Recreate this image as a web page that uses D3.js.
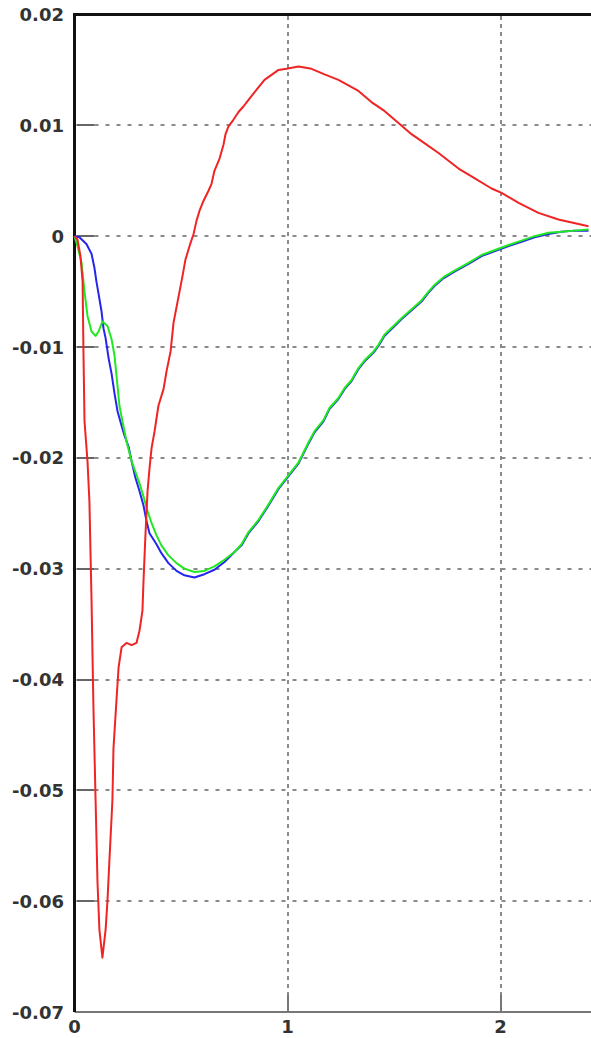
<!DOCTYPE html>
<html>
<head>
<meta charset="utf-8">
<script src="https://cdn.jsdelivr.net/npm/d3@7/dist/d3.min.js"></script>
<style>
  html, body { margin: 0; padding: 0; background: #fff; }
  svg { display: block; }
</style>
</head>
<body>
<svg id="chart" width="591" height="1038"></svg>
<script>
// ---- Data ----
const yTicks = [0.02, 0.01, 0, -0.01, -0.02, -0.03, -0.04, -0.05, -0.06, -0.07];
const yTickLabels = ["0.02", "0.01", "0", "-0.01", "-0.02", "-0.03", "-0.04", "-0.05", "-0.06", "-0.07"];
const xTicks = [0, 1, 2];
const xTickLabels = ["0", "1", "2"];

const redT = [0, 0.014, 0.028, 0.038, 0.042, 0.047, 0.061, 0.070, 0.080, 0.089, 0.099, 0.108, 0.117, 0.131,
  0.146, 0.155, 0.164, 0.178, 0.183, 0.197, 0.207, 0.221, 0.244, 0.268, 0.291, 0.305, 0.319, 0.324, 0.333,
  0.343, 0.352, 0.362, 0.376, 0.394, 0.418, 0.432, 0.451, 0.465, 0.488, 0.507, 0.521, 0.545, 0.559, 0.573,
  0.587, 0.606, 0.629, 0.643, 0.657, 0.681, 0.700, 0.709, 0.723, 0.746, 0.770, 0.793, 0.817, 0.854, 0.892,
  0.958, 0.995, 1.052, 1.113, 1.174, 1.239, 1.333, 1.394, 1.455, 1.521, 1.582, 1.643, 1.709, 1.803, 1.864,
  1.958, 2.005, 2.085, 2.178, 2.272, 2.366, 2.413];
const redV = [0, -0.0003, -0.0018, -0.0041, -0.0104, -0.0167, -0.0203, -0.0239, -0.0329, -0.0426, -0.0509,
  -0.0583, -0.0626, -0.0651, -0.0626, -0.0599, -0.0563, -0.0509, -0.0462, -0.0419, -0.0389, -0.0371, -0.0367,
  -0.0369, -0.0367, -0.0356, -0.0338, -0.0311, -0.0270, -0.0230, -0.0210, -0.0191, -0.0176, -0.0153, -0.0138,
  -0.0122, -0.0104, -0.0078, -0.0055, -0.0036, -0.0021, -0.0006, 0.0002, 0.0014, 0.0023, 0.0032, 0.0041,
  0.0047, 0.0059, 0.0070, 0.0083, 0.0092, 0.0099, 0.0105, 0.0112, 0.0117, 0.0123, 0.0132, 0.0141, 0.0150,
  0.0151, 0.0153, 0.0151, 0.0146, 0.0141, 0.0131, 0.0121, 0.0113, 0.0102, 0.0092, 0.0084, 0.0075, 0.0061,
  0.0054, 0.0043, 0.0039, 0.0030, 0.0021, 0.0015, 0.0011, 0.0009];

const blueT = [0, 0.023, 0.056, 0.080, 0.094, 0.103, 0.113, 0.127, 0.136, 0.146, 0.160, 0.174, 0.188, 0.202,
  0.221, 0.235, 0.254, 0.268, 0.286, 0.305, 0.324, 0.338, 0.352, 0.385, 0.408, 0.441, 0.479, 0.516, 0.563,
  0.610, 0.657, 0.704, 0.751, 0.784, 0.817, 0.864, 0.911, 0.958, 0.995, 1.052, 1.099, 1.127, 1.169, 1.197,
  1.239, 1.268, 1.300, 1.333, 1.362, 1.404, 1.427, 1.455, 1.535, 1.629, 1.662, 1.690, 1.732, 1.784, 1.850,
  1.911, 1.981, 2.038, 2.099, 2.160, 2.225, 2.286, 2.347, 2.413];
const blueV = [0, -0.0001, -0.0007, -0.0016, -0.0029, -0.0041, -0.0052, -0.0068, -0.0083, -0.0092, -0.0110,
  -0.0124, -0.0142, -0.0158, -0.0171, -0.0180, -0.0190, -0.0203, -0.0218, -0.0230, -0.0243, -0.0257, -0.0268,
  -0.0278, -0.0286, -0.0295, -0.0302, -0.0306, -0.0308, -0.0305, -0.0301, -0.0294, -0.0285, -0.0279, -0.0268,
  -0.0257, -0.0243, -0.0228, -0.0219, -0.0205, -0.0187, -0.0177, -0.0167, -0.0156, -0.0147, -0.0138, -0.0131,
  -0.0120, -0.0113, -0.0105, -0.0099, -0.0090, -0.0075, -0.0059, -0.0051, -0.0045, -0.0038, -0.0032, -0.0025,
  -0.0018, -0.0013, -0.0009, -0.0005, -0.0001, 0.0002, 0.0004, 0.0005, 0.0005];

const greenT = [0, 0.014, 0.033, 0.047, 0.061, 0.080, 0.099, 0.113, 0.131, 0.155, 0.174, 0.188, 0.202, 0.211,
  0.225, 0.244, 0.268, 0.305, 0.324, 0.343, 0.362, 0.385, 0.408, 0.441, 0.479, 0.516, 0.563, 0.610, 0.657,
  0.704, 0.751, 0.784, 0.817, 0.864, 0.911, 0.958, 0.995, 1.052, 1.099, 1.127, 1.169, 1.197, 1.239, 1.268,
  1.300, 1.333, 1.362, 1.404, 1.427, 1.455, 1.535, 1.629, 1.662, 1.690, 1.732, 1.784, 1.850, 1.911, 1.981,
  2.038, 2.099, 2.160, 2.225, 2.286, 2.347, 2.413];
const greenV = [0, -0.0009, -0.0024, -0.0050, -0.0072, -0.0086, -0.0090, -0.0086, -0.0077, -0.0081, -0.0093,
  -0.0108, -0.0135, -0.0153, -0.0167, -0.0185, -0.0203, -0.0223, -0.0235, -0.0248, -0.0259, -0.0270, -0.0279,
  -0.0288, -0.0295, -0.0300, -0.0303, -0.0302, -0.0298, -0.0292, -0.0285, -0.0278, -0.0267, -0.0256, -0.0242,
  -0.0227, -0.0218, -0.0204, -0.0186, -0.0176, -0.0166, -0.0155, -0.0146, -0.0137, -0.0130, -0.0119, -0.0112,
  -0.0104, -0.0098, -0.0089, -0.0074, -0.0058, -0.0050, -0.0044, -0.0037, -0.0031, -0.0024, -0.0017, -0.0012,
  -0.0008, -0.0004, 0.0000, 0.0003, 0.0004, 0.0005, 0.0006];

// ---- Layout ----
const svg = d3.select("#chart");
const mL = 74.5, mR = 591, mT = 14, mB = 1012;

const x = d3.scaleLinear().domain([0, 2.43]).range([mL, mL + 2.43 * 213]);
const y = d3.scaleLinear().domain([-0.07, 0.02]).range([mB, mT + 0.5]);

const g = svg.append("g");

// horizontal grid lines (dotted) + solid tick stubs
yTicks.filter(v => v < 0.0195 && v > -0.0695).forEach(v => {
  const yy = Math.round(y(v));
  g.append("line").attr("x1", mL + 2).attr("x2", mR).attr("y1", yy).attr("y2", yy)
    .attr("stroke", "#8a8a8a").attr("stroke-width", 2).attr("stroke-dasharray", "4,7")
    .attr("stroke-dashoffset", -18);
  g.append("line").attr("x1", mL + 2).attr("x2", mL + 20).attr("y1", yy).attr("y2", yy)
    .attr("stroke", "#666").attr("stroke-width", 2);
});

// vertical grid lines at 1 and 2
xTicks.filter(t => t > 0).forEach(t => {
  const xx = Math.round(x(t));
  g.append("line").attr("x1", xx).attr("x2", xx).attr("y1", mT + 2).attr("y2", mB)
    .attr("stroke", "#8a8a8a").attr("stroke-width", 2).attr("stroke-dasharray", "4,4");
  g.append("line").attr("x1", xx).attr("x2", xx).attr("y1", mB - 17).attr("y2", mB)
    .attr("stroke", "#777").attr("stroke-width", 2);
});

// axes frame
g.append("line").attr("x1", mL).attr("x2", mR).attr("y1", mB).attr("y2", mB)
  .attr("stroke", "#777").attr("stroke-width", 2);
g.append("line").attr("x1", mL - 1.5).attr("x2", mR).attr("y1", mT + 0.5).attr("y2", mT + 0.5)
  .attr("stroke", "#111").attr("stroke-width", 3);
g.append("line").attr("x1", mL).attr("x2", mL).attr("y1", mT - 1).attr("y2", mB)
  .attr("stroke", "#111").attr("stroke-width", 3);

// series lines
const line = d3.line().x(d => x(d[0])).y(d => y(d[1]));
const series = [
  { t: blueT, v: blueV, color: "#2525ee" },
  { t: greenT, v: greenV, color: "#22e822" },
  { t: redT, v: redV, color: "#f02424" }
];
series.forEach(s => {
  const pts = s.t.map((t, i) => [t, s.v[i]]);
  g.append("path").attr("d", line(pts)).attr("fill", "none")
    .attr("stroke", s.color).attr("stroke-width", 2).attr("stroke-linejoin", "round");
});

// y tick labels
yTicks.forEach((v, i) => {
  g.append("text").attr("x", 64).attr("y", y(v)).attr("text-anchor", "end")
    .attr("dominant-baseline", "central")
    .attr("font-family", "DejaVu Sans").attr("font-weight", "bold").attr("font-size", 18)
    .attr("fill", "#333").text(yTickLabels[i]);
});
// x tick labels
xTicks.forEach((t, i) => {
  g.append("text").attr("x", x(t)).attr("y", 1026).attr("text-anchor", "middle")
    .attr("dominant-baseline", "central")
    .attr("font-family", "DejaVu Sans").attr("font-weight", "bold").attr("font-size", 18)
    .attr("fill", "#333").text(xTickLabels[i]);
});
</script>
</body>
</html>
